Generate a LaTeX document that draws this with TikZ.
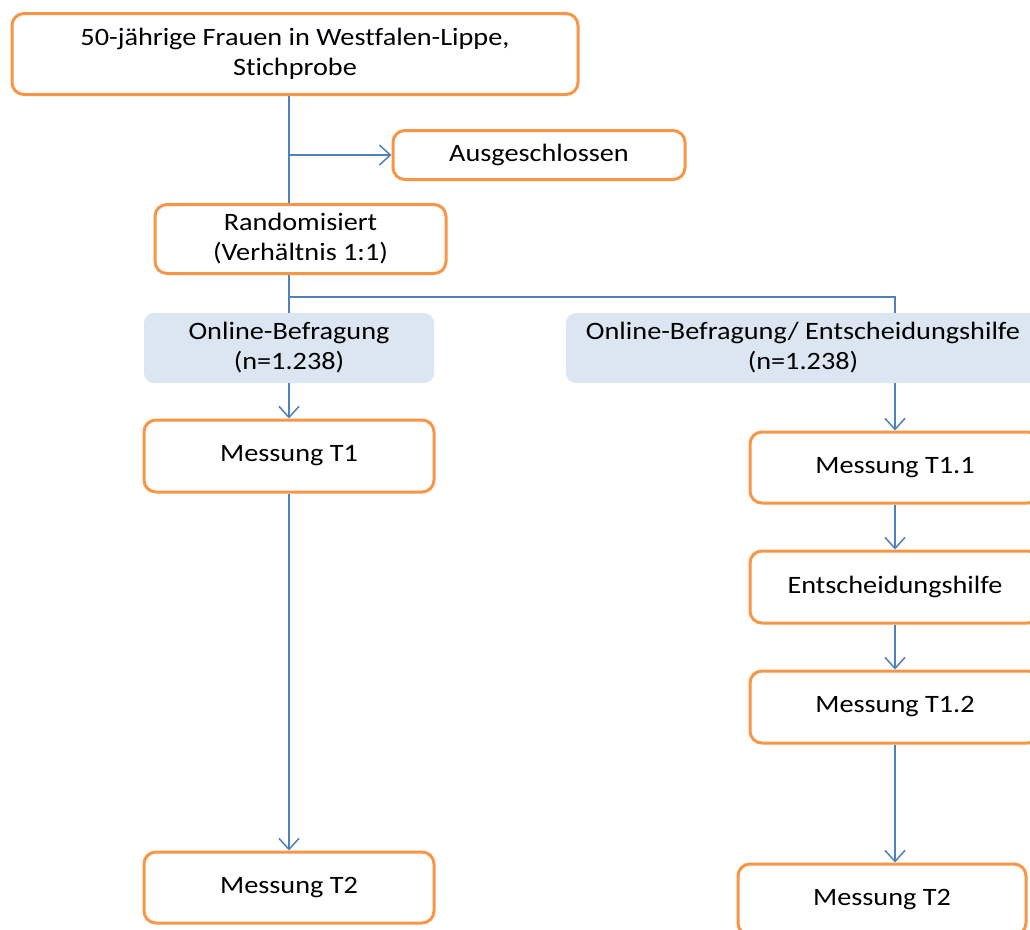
\documentclass[tikz,border=0pt]{standalone}
\usepackage{fontspec}
\setmainfont[FakeStretch=1.13,Ligatures=NoCommon]{Carlito}
\usetikzlibrary{arrows.meta}
\definecolor{boxorange}{HTML}{F79646}
\definecolor{linkblue}{HTML}{4F81BD}
\definecolor{paleblue}{HTML}{DCE6F2}
\begin{document}
\begin{tikzpicture}[x=1pt,y=-1pt,
  every node/.style={font=\fontsize{25}{30}\selectfont, align=center, inner sep=0pt},
  obox/.style={draw=boxorange, line width=3pt, rounded corners=12pt, fill=white},
  bbox/.style={fill=paleblue, rounded corners=10pt},
  link/.style={draw=linkblue, line width=1.5pt},
  arr/.style={link, -{Straight Barb[length=11pt,width=20pt,line width=1.5pt]}}]
\useasboundingbox (0,0) rectangle (1030,929);
\clip (0,0) rectangle (1030,929);
\fill[white] (0,0) rectangle (1030,929);
\node[obox, minimum width=566pt, minimum height=81pt] (top) at (295,54) {50-jährige Frauen in Westfalen-Lippe,\\Stichprobe};
\node[obox, minimum width=292pt, minimum height=49pt] (aus) at (539,155) {Ausgeschlossen};
\node[obox, minimum width=291pt, minimum height=69pt] (rand) at (300.5,239) {Randomisiert\\(Verhältnis 1:1)};
\node[bbox, minimum width=290pt, minimum height=70pt] (obl) at (289,348) {Online-Befragung\\(n=1.238)};
\node[bbox, minimum width=474pt, minimum height=70pt] (obr) at (803,348) {Online-Befragung/ Entscheidungshilfe\\(n=1.238)};
\node[obox, minimum width=290pt, minimum height=72pt] (mt1) at (289,456) {Messung T1};
\node[obox, minimum width=290pt, minimum height=71pt] (mt11) at (895,467.5) {Messung T1.1};
\node[obox, minimum width=290pt, minimum height=72pt] (eh) at (895,587) {Entscheidungshilfe};
\node[obox, minimum width=290pt, minimum height=72pt] (mt12) at (895,707) {Messung T1.2};
\node[obox, minimum width=290pt, minimum height=71pt] (mt2l) at (289,887.5) {Messung T2};
\node[obox, minimum width=288pt, minimum height=71pt] (mt2r) at (882,899.5) {Messung T2};
\coordinate (j1) at (289,155);
\coordinate (j2) at (289,297);
\coordinate (j3) at (895,297);
\draw[link] (top.south -| j1) -- (rand.north -| j1);
\draw[arr] (j1) -- (j1 -| aus.west);
\draw[link] (rand.south -| j2) -- (obl.north -| j2);
\draw[link] (j2) -- (j3) -- (obr.north -| j3);
\draw[arr] (obl.south) -- (mt1.north);
\draw[arr] (obr.south -| j3) -- (mt11.north);
\draw[arr] (mt11.south) -- (eh.north);
\draw[arr] (eh.south) -- (mt12.north);
\draw[arr] (mt12.south) -- (mt2r.north -| mt12.south);
\draw[arr] (mt1.south) -- (mt2l.north);
\end{tikzpicture}
\end{document}
